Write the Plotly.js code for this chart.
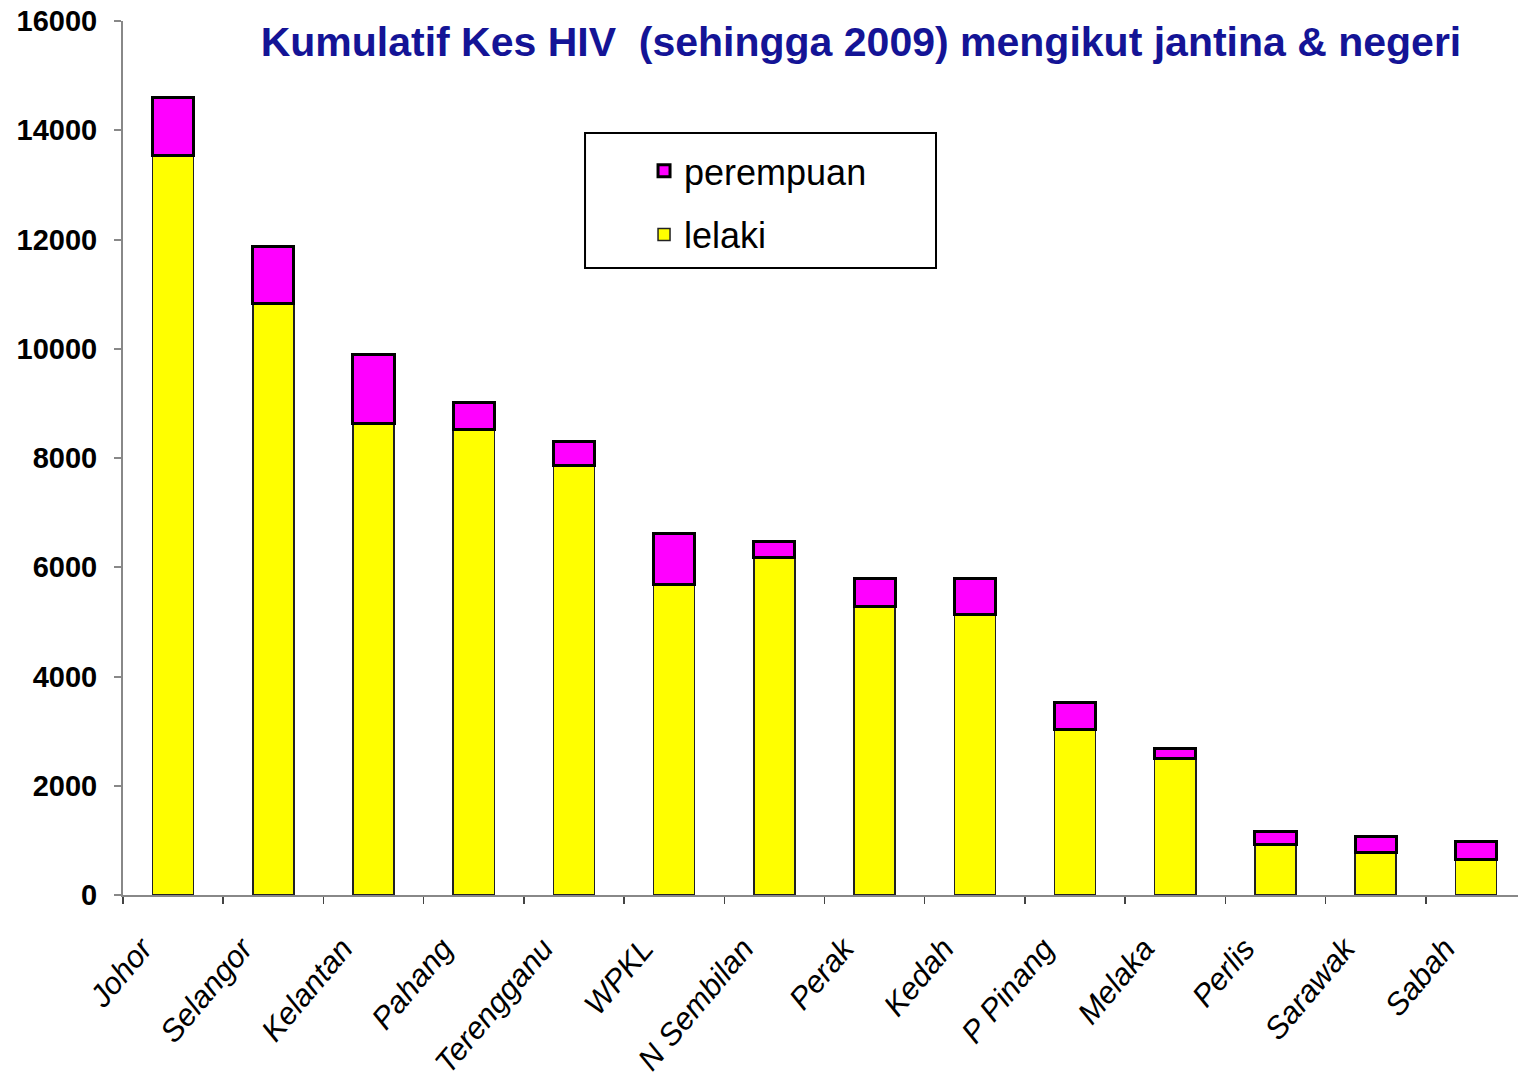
<!DOCTYPE html>
<html>
<head>
<meta charset="utf-8">
<script src="https://cdn.plot.ly/plotly-3.0.1.min.js"></script>
<style>
  html, body { margin: 0; padding: 0; background: #ffffff; }
  #chart { width: 1518px; height: 1091px; }
</style>
</head>
<body>
<div id="chart"></div>
<script>
// Data
const states = ["Johor", "Selangor", "Kelantan", "Pahang", "Terengganu", "WPKL", "N Sembilan",
                "Perak", "Kedah", "P Pinang", "Melaka", "Perlis", "Sarawak", "Sabah"];
const lelaki = [13540, 10830, 8640, 8530, 7860, 5690, 6185, 5280, 5130, 3030, 2490, 925, 785, 650];
const perempuan = [1060, 1035, 1260, 480, 440, 935, 285, 520, 665, 485, 200, 245, 290, 325];
const yTicks = [0, 2000, 4000, 6000, 8000, 10000, 12000, 14000, 16000];
const titleText = "Kumulatif Kes HIV&nbsp;&nbsp;(sehingga 2009) mengikut jantina &amp; negeri";

const traces = [
  {
    type: "bar", name: "lelaki", x: states, y: lelaki, legendgroup: "l", legendrank: 2,
    marker: { color: "#FFFF00", line: { color: "#222222", width: 1.5 } }
  },
  {
    type: "bar", name: "perempuan", x: states, y: perempuan, legendgroup: "p", legendrank: 1,
    marker: { color: "#FF00FF", line: { color: "#000000", width: 3 } }
  }
];

const layout = {
  width: 1518, height: 1091,
  paper_bgcolor: "#ffffff", plot_bgcolor: "#ffffff",
  margin: { l: 123, r: 0, t: 21, b: 196, pad: 0 },
  barmode: "stack",
  bargap: 0.59,
  showlegend: true,
  font: { family: "Liberation Sans, Arial, sans-serif", color: "#000000" },
  title: {
    text: "<b>" + titleText + "</b>",
    font: { family: "Liberation Sans, Arial, sans-serif", size: 41, color: "#141496" },
    x: 0.529, xref: "paper", xanchor: "center",
    y: 0.962, yref: "container", yanchor: "middle"
  },
  xaxis: {
    type: "category",
    range: [-0.5, 13.42],
    showline: true, linecolor: "#888888", linewidth: 2,
    ticks: "outside", tickson: "boundaries", ticklen: 7, tickwidth: 1.5, tickcolor: "#444444",
    tickangle: -50,
    tickfont: { family: "Liberation Sans, Arial, sans-serif", size: 31, color: "#000000", style: "italic" },
    ticklabelshift: -31,
    ticklabelstandoff: 21,
    showgrid: false, zeroline: false, fixedrange: true
  },
  yaxis: {
    range: [0, 16000],
    tickvals: yTicks,
    ticktext: yTicks.map(String),
    showline: true, linecolor: "#888888", linewidth: 2,
    ticks: "outside", ticklen: 7, tickwidth: 2, tickcolor: "#888888",
    tickfont: { family: "Liberation Sans, Arial, sans-serif", size: 29, color: "#000000", weight: "bold" },
    ticklabelstandoff: 11,
    showgrid: false, zeroline: false, fixedrange: true
  },
  shapes: [
    {
      type: "rect", xref: "paper", yref: "paper",
      x0: 0.3312, x1: 0.5828, y0: 0.7174, y1: 0.8719,
      fillcolor: "#ffffff", line: { color: "#000000", width: 2 }, layer: "above"
    }
  ],
  legend: {
    x: 0.3735, y: 0.863, xanchor: "left", yanchor: "top",
    xref: "paper", yref: "paper",
    traceorder: "grouped",
    tracegroupgap: 14,
    bgcolor: "rgba(0,0,0,0)", borderwidth: 0,
    font: { family: "Liberation Sans, Arial, sans-serif", size: 36, color: "#000000" },
    itemwidth: 30
  }
};

Plotly.newPlot("chart", traces, layout, { displayModeBar: false, staticPlot: true });
</script>
</body>
</html>
